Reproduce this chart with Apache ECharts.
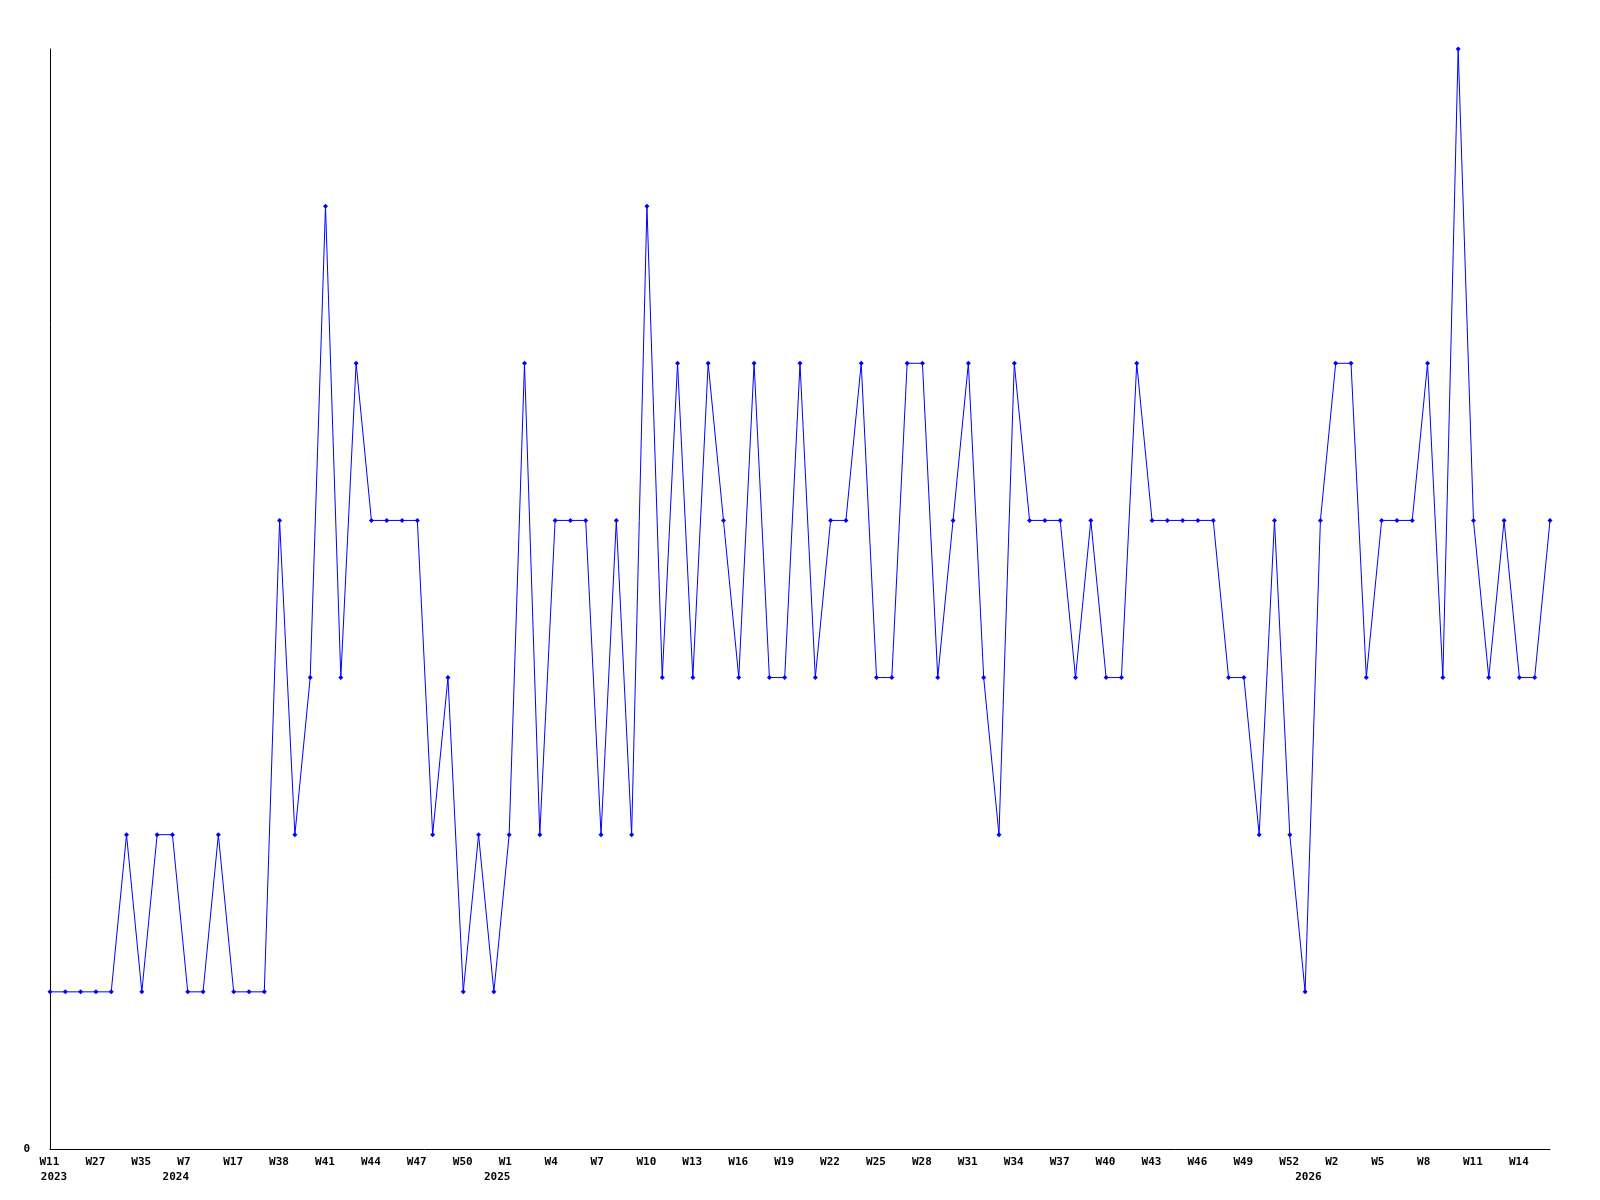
<!DOCTYPE html>
<html><head><meta charset="utf-8">
<script src="https://cdn.jsdelivr.net/npm/echarts@6/dist/echarts.min.js"></script>
<style>html,body{margin:0;padding:0;background:#fff}#c{width:1600px;height:1200px}</style>
</head><body><div id="c"></div>
<script>
// Week categories (year-week)
const weeks2023 = ["2023-W11","2023-W15","2023-W21","2023-W27","2023-W29","2023-W33","2023-W35","2023-W40","2023-W45"];
const weeks2024early = ["2024-W7","2024-W10","2024-W14","2024-W17","2024-W22","2024-W30"];
const weeks2024 = [];
for (let w = 38; w <= 52; w++) weeks2024.push("2024-W" + w);
const weeks2025 = [];
for (let w = 1; w <= 53; w++) weeks2025.push("2025-W" + w);
const weeks2026 = [];
for (let w = 1; w <= 16; w++) weeks2026.push("2026-W" + w);
const categories = [].concat(weeks2023, weeks2024early, weeks2024, weeks2025, weeks2026);

const values = [
  1,1,1,1,1,2,1,2,2,1,1,2,1,1,1,
  4,2,3,6,3,5,4,4,4,4,2,3,1,2,1,
  2,5,2,4,4,4,2,4,2,6,3,5,3,5,4,
  3,5,3,3,5,3,4,4,5,3,3,5,5,3,4,
  5,3,2,5,4,4,4,3,4,3,3,5,4,4,4,
  4,4,3,3,2,4,2,1,4,5,5,3,4,4,4,
  5,3,7,4,3,4,3,3,4
];
const cats = categories.slice(0, values.length);

const yearOf = (i) => cats[i].split('-')[0];
const isYearStart = (i) => i === 0 || yearOf(i) !== yearOf(i - 1);

const chart = echarts.init(document.getElementById('c'));
const FONT = 'DejaVu Sans Mono';
const txt = { fontFamily: FONT, fontWeight: 'bold', fontSize: 11, color: '#000' };
chart.setOption({
  animation: false,
  backgroundColor: '#fff',
  grid: { left: 50, right: 50, top: 49, bottom: 51, containLabel: false },
  xAxis: [{
    type: 'category',
    data: cats,
    position: 'bottom',
    boundaryGap: false,
    axisLine: { lineStyle: { color: '#000', width: 1 } },
    axisTick: { show: false },
    splitLine: { show: false },
    axisLabel: Object.assign({}, txt, {
      interval: 2,
      margin: 8,
      formatter: function (v) { return '{w|' + v.split('-')[1] + '}'; },
      rich: { w: Object.assign({}, txt, { width: 21, align: 'left' }) }
    })
  }, {
    type: 'category',
    data: cats,
    position: 'bottom',
    boundaryGap: false,
    axisLine: { show: false },
    axisTick: { show: false },
    splitLine: { show: false },
    axisLabel: Object.assign({}, txt, {
      interval: function (i) { return isYearStart(i); },
      margin: 23,
      formatter: function (v, i) {
        const y = v.split('-')[0];
        return i === 0 ? '{f|' + y + '}' : '{y|' + y + '}';
      },
      rich: {
        f: Object.assign({}, txt, { padding: [0, 0, 0, 8] }),
        y: Object.assign({}, txt, { padding: [0, 24, 0, 0] })
      }
    })
  }],
  yAxis: {
    type: 'value',
    min: 0, max: 7, interval: 7,
    axisLine: { show: true, lineStyle: { color: '#000', width: 1 } },
    axisTick: { show: false },
    splitLine: { show: false },
    axisLabel: Object.assign({}, txt, {
      margin: 20,
      formatter: function (v) { return v === 0 ? '0' : ''; }
    })
  },
  series: [{
    type: 'line',
    xAxisIndex: 0,
    data: values,
    symbol: 'diamond',
    symbolSize: 5,
    showAllSymbol: true,
    lineStyle: { color: '#0000ff', width: 1 },
    itemStyle: { color: '#0000ff' }
  }]
});
</script></body></html>
